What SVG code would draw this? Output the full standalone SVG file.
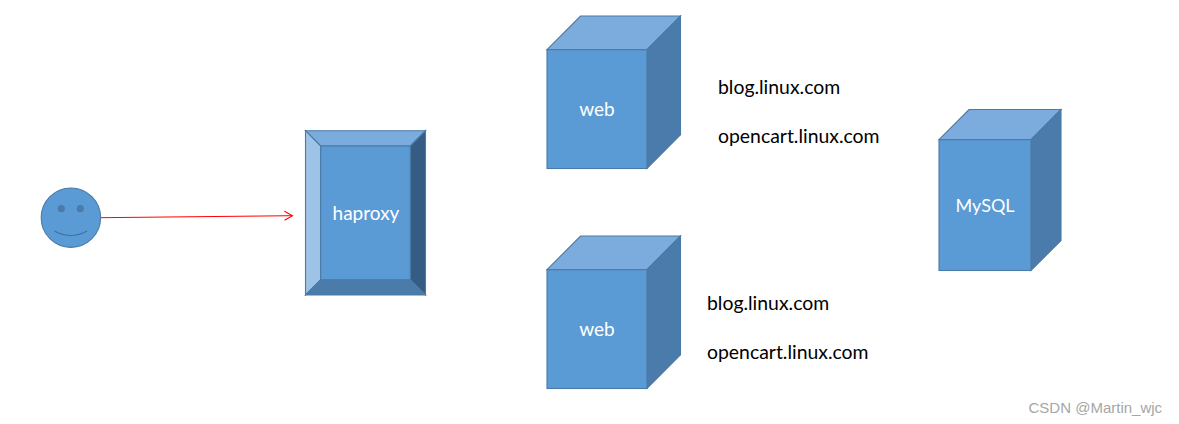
<svg xmlns="http://www.w3.org/2000/svg" width="1179" height="424" viewBox="0 0 1179 424">
<style>
.s{stroke:#4a7aa6;stroke-width:1.1;stroke-linejoin:miter}
.f{fill:#5b9bd5}.t{fill:#7cacdd}.d{fill:#4a7bab}.l{fill:#9dc3e6}.k{fill:#355c82}
text{font-family:Lato,"Liberation Sans",sans-serif;font-size:19px}
.w{fill:#fff;text-anchor:middle}.b{fill:#000;font-size:19.4px}
</style>
<defs>
<marker id="arr" markerUnits="userSpaceOnUse" markerWidth="12" markerHeight="12" refX="9" refY="5" orient="auto" overflow="visible"><path d="M1 0.5L9 5L1 9.5" fill="none" stroke="#ff0000" stroke-width="1"/></marker>
</defs>
<rect width="1179" height="424" fill="#fff"/>
<g id="connectors">
<line x1="101" y1="217.7" x2="292.5" y2="215.7" stroke="#ff0000" stroke-width="1" marker-end="url(#arr)"/>
</g>
<g id="user">
<circle class="s f" cx="70.9" cy="217.7" r="29.7"/>
<circle cx="61.3" cy="208.7" r="3.6" fill="#4a7bab"/>
<circle cx="80.3" cy="208.7" r="3.6" fill="#4a7bab"/>
<path d="M54.5 231Q70.7 240 87 231" fill="none" stroke="#41719c" stroke-width="1.2"/>
</g>
<g id="haproxy">
<path class="s t" d="M305.5 130.7H425.5L410.3 146H320.7Z"/>
<path class="s l" d="M305.5 130.7L320.7 146V279.7L305.5 295Z"/>
<path class="s k" d="M425.5 130.7V295L410.3 279.7V146Z"/>
<path class="s d" d="M305.5 295H425.5L410.3 279.7H320.7Z"/>
<rect class="s f" x="320.7" y="146" width="89.6" height="133.7"/>
<text class="w" x="366" y="220">haproxy</text>
</g>
<g id="web1">
<path class="s t" d="M547 49.7L580.5 16H680.5L647 49.7Z"/>
<path class="s d" d="M647 49.7L680.5 16V134.8L647 168.5Z"/>
<rect class="s f" x="547" y="49.7" width="100" height="118.8"/>
<text class="w" x="597" y="115.5">web</text>
</g>
<g id="web2">
<path class="s t" d="M547 269.7L580.5 236H680.5L647 269.7Z"/>
<path class="s d" d="M647 269.7L680.5 236V354.8L647 388.5Z"/>
<rect class="s f" x="547" y="269.7" width="100" height="118.8"/>
<text class="w" x="597" y="335.5">web</text>
</g>
<g id="mysql">
<path class="s t" d="M939 139.7L969 109.5H1061L1031 139.7Z"/>
<path class="s d" d="M1031 139.7L1061 109.5V240.5L1031 270.5Z"/>
<rect class="s f" x="939" y="139.7" width="92" height="130.8"/>
<text class="w" x="985" y="212" style="font-size:18px">MySQL</text>
</g>
<g id="labels">
<text class="b" x="718" y="93.5">blog.linux.com</text>
<text class="b" x="718" y="143">opencart.linux.com</text>
<text class="b" x="707" y="309.5">blog.linux.com</text>
<text class="b" x="707" y="358.5">opencart.linux.com</text>
<text x="1028.5" y="412.5" style="font-family:'Liberation Sans',sans-serif;font-size:15px;fill:#a6a6a6">CSDN @Martin_wjc</text>
</g>
</svg>
